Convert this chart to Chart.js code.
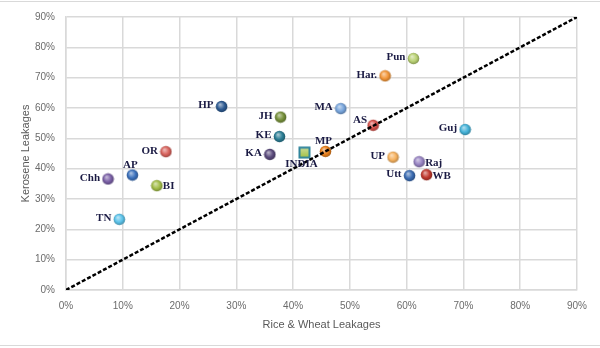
<!DOCTYPE html>
<html>
<head>
<meta charset="utf-8">
<script src="https://cdn.jsdelivr.net/npm/chart.js@4"></script>
<style>
  body { margin: 0; background: #fff; }
</style>
</head>
<body>
<canvas id="leakChart" width="600" height="348"></canvas>
<script>
// Leakages by state (%)
var states = ['HP', 'OR', 'AP', 'Chh', 'BI', 'TN', 'JH', 'KE', 'KA', 'INDIA', 'MP', 'MA', 'AS', 'Har.', 'Pun', 'Guj', 'UP', 'Raj', 'Utt', 'WB'];
var riceWheat = [27.4, 17.6, 11.7, 7.4, 16.0, 9.4, 37.8, 37.6, 35.9, 42.0, 45.7, 48.4, 54.1, 56.2, 61.2, 70.3, 57.6, 62.2, 60.5, 63.5];
var kerosene = [60.5, 45.6, 37.9, 36.6, 34.4, 23.3, 57.0, 50.6, 44.7, 45.3, 45.7, 59.8, 54.3, 70.6, 76.3, 52.9, 43.8, 42.3, 37.7, 38.0];
var equalLine = [0, 90];
var axisTicks = [0, 10, 20, 30, 40, 50, 60, 70, 80, 90];

var colours = ['#2d5a92', '#d8625c', '#3d72bd', '#7a5fa6', '#a2bd48', '#5cc3ea', '#76903a', '#2c7e95', '#5a4a7c', '#a5c249',
               '#e8801c', '#78a5dc', '#d6504a', '#f39638', '#b9d174', '#44b2d8', '#f7b25e', '#9783c2', '#3b6cb2', '#c0392e'];
var labelPos = ['left', 'left', 'above', 'left', 'right', 'left', 'left', 'left', 'left', 'below',
                'above', 'left', 'upleft', 'left', 'left', 'left', 'left', 'right', 'left', 'right'];

// little shaded balls for the markers
function shade(hex, f) {
    var n = parseInt(hex.slice(1), 16);
    var r = (n >> 16) & 255, g = (n >> 8) & 255, b = n & 255;
    function c(v) { return Math.max(0, Math.min(255, Math.round(f > 0 ? v + (255 - v) * f : v * (1 + f)))); }
    return 'rgb(' + c(r) + ',' + c(g) + ',' + c(b) + ')';
}
function makeBall(col) {
    var cv = document.createElement('canvas');
    cv.width = 13; cv.height = 13;
    var c = cv.getContext('2d');
    var grd = c.createRadialGradient(5, 4.5, 0.5, 6.5, 6.5, 6.5);
    grd.addColorStop(0, shade(col, 0.55));
    grd.addColorStop(0.55, col);
    grd.addColorStop(1, shade(col, -0.35));
    c.fillStyle = grd;
    c.beginPath();
    c.arc(6.5, 6.5, 5.8, 0, Math.PI * 2);
    c.fill();
    return cv;
}
function makeSquare(col) {
    var cv = document.createElement('canvas');
    cv.width = 13; cv.height = 13;
    var c = cv.getContext('2d');
    c.fillStyle = '#31859c';
    c.fillRect(0.5, 0.5, 12, 12);
    var grd = c.createLinearGradient(0, 2, 0, 11);
    grd.addColorStop(0, shade(col, 0.4));
    grd.addColorStop(1, col);
    c.fillStyle = grd;
    c.fillRect(2.5, 2.5, 8, 8);
    return cv;
}

var markers = states.map(function (s, i) {
    return s === 'INDIA' ? makeSquare(colours[i]) : makeBall(colours[i]);
});

var pointLabels = {
    id: 'pointLabels',
    afterDatasetsDraw: function (chart) {
        var meta = chart.getDatasetMeta(1);
        var ctx = chart.ctx;
        ctx.save();
        ctx.font = 'bold 11px "Liberation Serif", serif';
        ctx.fillStyle = '#1b1b44';
        meta.data.forEach(function (pt, i) {
            var x = pt.x, y = pt.y, p = labelPos[i];
            ctx.textBaseline = 'middle';
            if (p === 'left') { ctx.textAlign = 'right'; ctx.fillText(states[i], x - 8, y - 1); }
            else if (p === 'upleft') { ctx.textAlign = 'right'; ctx.fillText(states[i], x - 6, y - 5); }
            else if (p === 'right') { ctx.textAlign = 'left'; ctx.fillText(states[i], x + 6, y + 1); }
            else if (p === 'above') { ctx.textAlign = 'center'; ctx.fillText(states[i], x - 2, y - 10); }
            else { ctx.textAlign = 'center'; ctx.fillText(states[i], x - 3, y + 12); }
        });
        ctx.restore();
    }
};

var frame = {
    id: 'frame',
    beforeDraw: function (chart) {
        var ctx = chart.ctx;
        ctx.save();
        ctx.strokeStyle = '#d9d9d9';
        ctx.lineWidth = 1;
        ctx.beginPath();
        ctx.moveTo(0, 1.5); ctx.lineTo(600, 1.5);
        ctx.moveTo(0, 345.5); ctx.lineTo(600, 345.5);
        ctx.stroke();
        ctx.restore();
    }
};

var ctxLeak = document.getElementById('leakChart').getContext('2d');
var leakChart = new Chart(ctxLeak, {
    type: 'scatter',
    data: {
        datasets: [{
            data: equalLine.map(function (v) { return { x: v, y: v }; }),
            showLine: true,
            borderColor: '#000',
            borderWidth: 2.5,
            borderDash: [4, 2],
            pointRadius: 0,
            order: 0
        }, {
            data: states.map(function (s, i) { return { x: riceWheat[i], y: kerosene[i] }; }),
            pointStyle: markers,
            pointRadius: 6,
            order: 1
        }]
    },
    options: {
        responsive: false,
        animation: false,
        layout: { padding: { top: 15, right: 23, left: 0, bottom: 0 } },
        plugins: { legend: { display: false }, tooltip: { enabled: false } },
        scales: {
            x: {
                min: 0, max: 90,
                afterBuildTicks: function (s) { s.ticks = axisTicks.map(function (v) { return { value: v }; }); },
                afterFit: function (s) { s.height = 58; },
                grid: { color: '#d9d9d9', lineWidth: 1.5, drawTicks: false },
                border: { color: '#d9d9d9', width: 1.5 },
                ticks: { padding: 10, color: '#6b6b6b', font: { family: 'Liberation Sans', size: 10 }, callback: function (v) { return v + '%'; } },
                title: { display: true, text: 'Rice & Wheat Leakages', color: '#595959', font: { family: 'Liberation Sans', size: 11 }, padding: { top: 0, bottom: 16 } }
            },
            y: {
                min: 0, max: 90,
                afterBuildTicks: function (s) { s.ticks = axisTicks.map(function (v) { return { value: v }; }); },
                afterFit: function (s) { s.width = 66; },
                grid: { color: '#d9d9d9', lineWidth: 1.5, drawTicks: false },
                border: { color: '#d9d9d9', width: 1.5 },
                ticks: { padding: 11, color: '#6b6b6b', font: { family: 'Liberation Sans', size: 10 }, callback: function (v) { return v + '%'; } },
                title: { display: true, text: 'Kerosene Leakages', color: '#595959', font: { family: 'Liberation Sans', size: 11 }, padding: { top: 19, bottom: 0 } }
            }
        }
    },
    plugins: [frame, pointLabels]
});
</script>
</body>
</html>
